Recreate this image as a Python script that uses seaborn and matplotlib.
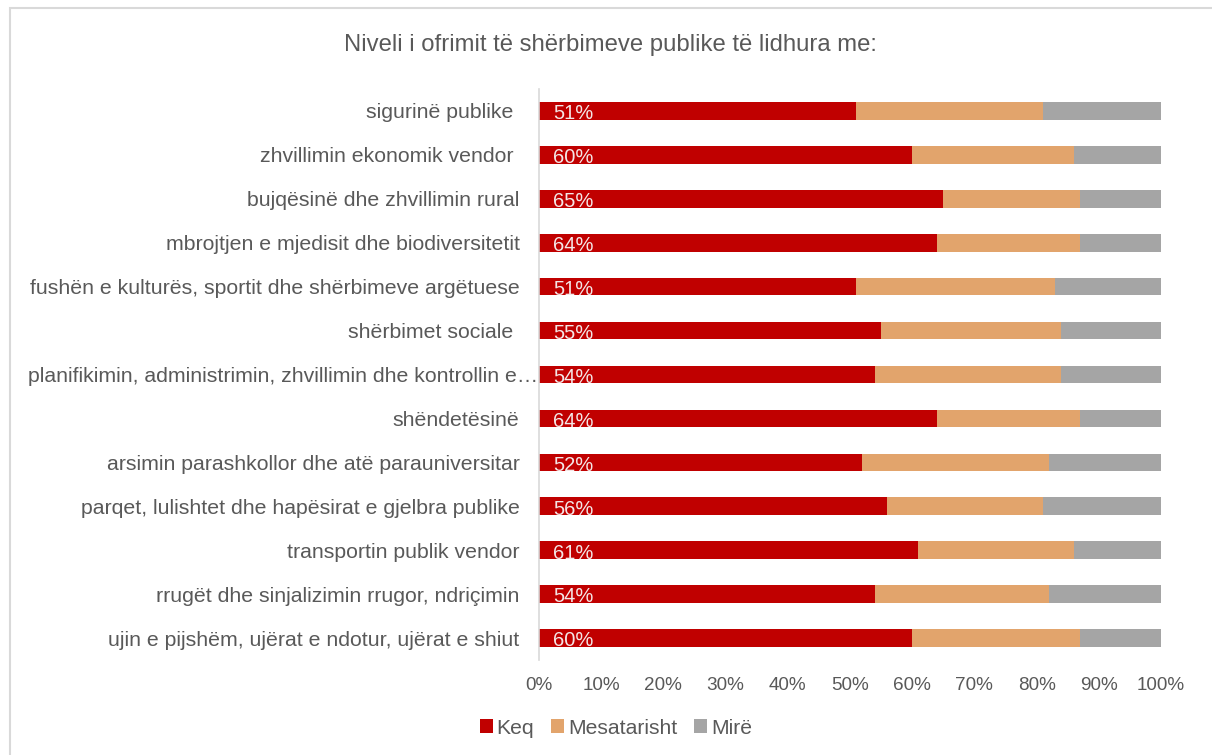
import pandas as pd
import matplotlib
matplotlib.use('Agg')
import matplotlib.pyplot as plt
from matplotlib.patches import Patch, Rectangle
from matplotlib.transforms import ScaledTranslation
import seaborn as sns

kategorite = [
    'sigurinë publike ',
    'zhvillimin ekonomik vendor ',
    'bujqësinë dhe zhvillimin rural',
    'mbrojtjen e mjedisit dhe biodiversitetit',
    'fushën e kulturës, sportit dhe shërbimeve argëtuese',
    'shërbimet sociale ',
    'planifikimin, administrimin, zhvillimin dhe kontrollin e…',
    'shëndetësinë',
    'arsimin parashkollor dhe atë parauniversitar',
    'parqet, lulishtet dhe hapësirat e gjelbra publike',
    'transportin publik vendor',
    'rrugët dhe sinjalizimin rrugor, ndriçimin',
    'ujin e pijshëm, ujërat e ndotur, ujërat e shiut',
]
keq = [51, 60, 65, 64, 51, 55, 54, 64, 52, 56, 61, 54, 60]
mesatarisht = [30, 26, 22, 23, 32, 29, 30, 23, 30, 25, 25, 28, 27]
mire = [19, 14, 13, 13, 17, 16, 16, 13, 18, 19, 14, 18, 13]

seri = ['Keq', 'Mesatarisht', 'Mirë']
ngjyrat = ['#C00000', '#E2A46C', '#A5A5A5']
titulli = 'Niveli i ofrimit të shërbimeve publike të lidhura me:'

sns.set_style('white')
plt.rcParams['font.family'] = ['Liberation Sans', 'DejaVu Sans']
gri = '#595959'

df = pd.DataFrame({'kategoria': kategorite, 'Keq': keq,
                   'Mesatarisht': mesatarisht, 'Mirë': mire})
# cumulative ends for stacking
df['end_keq'] = df['Keq']
df['end_mes'] = df['Keq'] + df['Mesatarisht']
df['end_mire'] = df['end_mes'] + df['Mirë']

fig = plt.figure(figsize=(12.12, 7.55), dpi=100)
ax = fig.add_axes([539 / 1212, 1 - 660 / 755, 622 / 1212, 571 / 755])

for col, c in zip(['end_mire', 'end_mes', 'end_keq'], ngjyrat[::-1]):
    sns.barplot(data=df, y='kategoria', x=col, color=c, width=0.4,
                orient='h', ax=ax, saturation=1, linewidth=0)

for i, v in enumerate(df['Keq']):
    ax.text(2.3, i + 0.02, f'{v}%', va='center_baseline', ha='left',
            color='#F4E6E6', fontsize=14.5)

ax.set_xlim(0, 100)
ax.set_xticks(range(0, 101, 10))
ax.set_xticklabels([f'{t}%' for t in range(0, 101, 10)])
ax.set_xlabel('')
ax.set_ylabel('')
ax.tick_params(axis='y', length=0, pad=14, labelsize=15.3, labelcolor=gri)
ax.tick_params(axis='x', length=0, pad=12, labelsize=13.6, labelcolor=gri)
for s in ['top', 'right', 'bottom']:
    ax.spines[s].set_visible(False)
ax.spines['left'].set_color('#D9D9D9')
ax.spines['left'].set_linewidth(1.2)

# the truncated label runs right up to the axis line
lbl = ax.get_yticklabels()[6]
lbl.set_transform(lbl.get_transform() + ScaledTranslation(0.19, 0, fig.dpi_scale_trans))

fig.text(610 / 1212, 1 - 45 / 755, titulli, ha='center', va='center',
         fontsize=17.2, color=gri)

handles = [Patch(facecolor=c, edgecolor='none') for c in ngjyrat]
fig.legend(handles, seri, loc='center', ncol=3,
           bbox_to_anchor=(616 / 1212, 1 - 728 / 755), frameon=False,
           fontsize=15.2, labelcolor=gri, handlelength=0.6, handleheight=0.6,
           handletextpad=0.2, columnspacing=0.8)

fig.patches.append(Rectangle((10 / 1212, -0.02), 1.1, 1 - 8 / 755 + 0.02,
                             transform=fig.transFigure, fill=False,
                             edgecolor='#D9D9D9', linewidth=1.5))

fig.savefig('out.png', dpi=100)
